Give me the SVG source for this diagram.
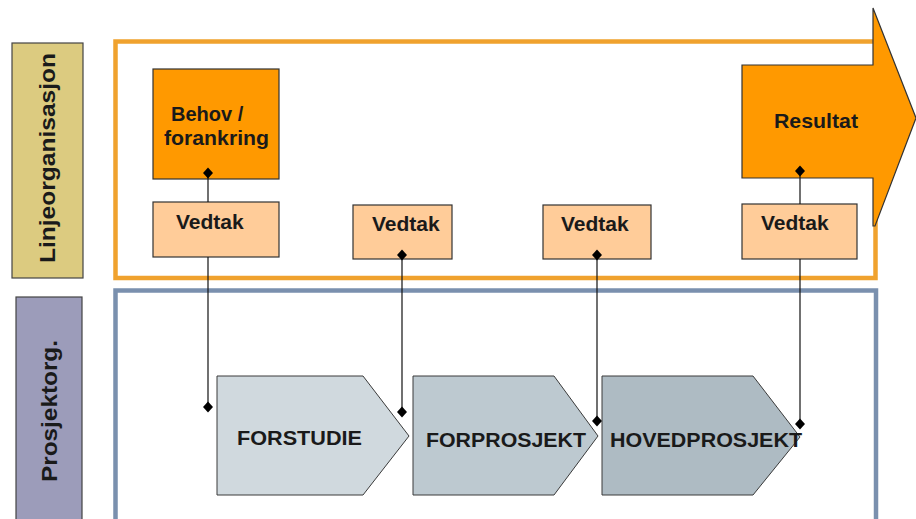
<svg xmlns="http://www.w3.org/2000/svg" xmlns:xlink="http://www.w3.org/1999/xlink" width="916" height="519" viewBox="0 0 916 519">
<style>
text{font-family:"Liberation Sans",Arial,sans-serif;font-weight:bold;fill:#1a1a1a}
.lbl{font-size:21.5px}
.v{font-size:21px}
.chev{stroke:#3a3a3a;stroke-width:1}
.box{stroke:#333;stroke-width:1.2}
.conn line{stroke:#111;stroke-width:1.2}
</style>
<defs>
<path id="dm" d="M0,-5.5 L5,0 L0,5.5 L-5,0 Z" fill="#000"/>
</defs>
<rect width="916" height="519" fill="#fff"/>

<g id="label-linje">
<rect x="12" y="43" width="71" height="235" fill="#dccb80" stroke="#444" stroke-width="1.2"/>
<text class="lbl" transform="translate(55,263) rotate(-90)" textLength="210" lengthAdjust="spacingAndGlyphs">Linjeorganisasjon</text>
</g>
<g id="label-prosjekt">
<rect x="16" y="297" width="66" height="230" fill="#9c9cba" stroke="#444" stroke-width="1.2"/>
<text class="lbl" transform="translate(57,482) rotate(-90)" textLength="142" lengthAdjust="spacingAndGlyphs">Prosjektorg.</text>
</g>

<g id="frame-linje">
<rect x="115.5" y="41.5" width="760" height="236.5" fill="none" stroke="#f0a22e" stroke-width="4.5"/>
</g>
<g id="frame-prosjekt">
<rect x="115.5" y="290.5" width="760.5" height="240" fill="none" stroke="#7a90ae" stroke-width="4.5"/>
</g>

<g id="resultat">
<polygon points="742,65 873,65 873,8 916,118 875,226 873,226 873,178 742,178" fill="#ff9900" stroke="#333" stroke-width="1.2"/>
<text x="774" y="128" font-size="20.5" textLength="84" lengthAdjust="spacingAndGlyphs">Resultat</text>
</g>

<g id="behov">
<rect class="box" x="153" y="69" width="126" height="110" fill="#ff9900"/>
<text x="171" y="121" font-size="20">Behov /</text>
<text x="164" y="145" font-size="20" textLength="105" lengthAdjust="spacingAndGlyphs">forankring</text>
</g>

<g id="vedtak1">
<rect class="box" x="153" y="202" width="126" height="55" fill="#ffcc99"/>
<text class="v" x="176" y="229">Vedtak</text>
</g>
<g id="vedtak2">
<rect class="box" x="353" y="205" width="99" height="54" fill="#ffcc99"/>
<text class="v" x="372" y="231">Vedtak</text>
</g>
<g id="vedtak3">
<rect class="box" x="543" y="205" width="108" height="54" fill="#ffcc99"/>
<text class="v" x="561" y="231">Vedtak</text>
</g>
<g id="vedtak4">
<rect class="box" x="742" y="204" width="115" height="55" fill="#ffcc99"/>
<text class="v" x="761" y="230">Vedtak</text>
</g>

<g id="forstudie">
<polygon class="chev" points="217,376 363,376 409,436 363,495 217,495" fill="#d0d9de"/>
<text x="237" y="445" font-size="21" textLength="125" lengthAdjust="spacingAndGlyphs">FORSTUDIE</text>
</g>
<g id="forprosjekt">
<polygon class="chev" points="413,376 554,376 598,436 554,495 413,495" fill="#bdc9d0"/>
<text x="426" y="447" font-size="21" textLength="160" lengthAdjust="spacingAndGlyphs">FORPROSJEKT</text>
</g>
<g id="hovedprosjekt">
<polygon class="chev" points="602,376 753,376 800,437 753,495 602,495" fill="#aebbc3"/>
<text x="610" y="447" font-size="21" textLength="192" lengthAdjust="spacingAndGlyphs">HOVEDPROSJEKT</text>
</g>

<g id="connectors" class="conn">
<line x1="208" y1="173" x2="208" y2="202"/>
<line x1="208" y1="257" x2="208" y2="407"/>
<line x1="402" y1="255" x2="402" y2="412"/>
<line x1="597" y1="255" x2="597" y2="421"/>
<line x1="800" y1="171" x2="800" y2="204"/>
<line x1="800" y1="259" x2="800" y2="424"/>
<use xlink:href="#dm" x="208" y="173"/>
<use xlink:href="#dm" x="208" y="407"/>
<use xlink:href="#dm" x="402" y="255"/>
<use xlink:href="#dm" x="402" y="412"/>
<use xlink:href="#dm" x="597" y="255"/>
<use xlink:href="#dm" x="597" y="421"/>
<use xlink:href="#dm" x="800" y="171"/>
<use xlink:href="#dm" x="800" y="424"/>
</g>
</svg>
